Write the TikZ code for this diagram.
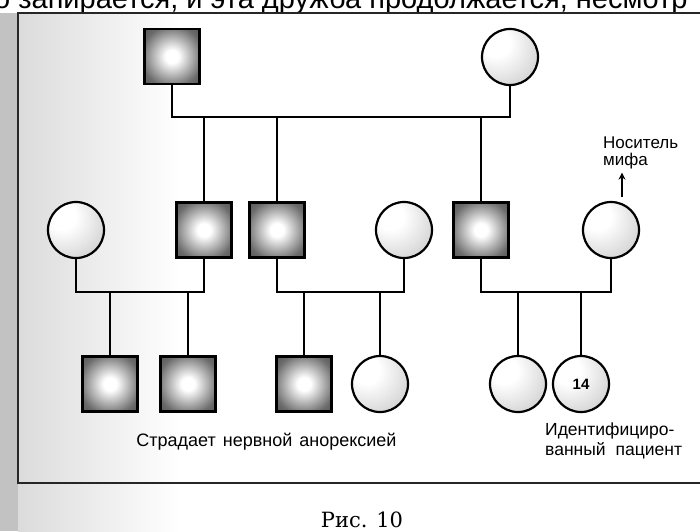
\documentclass[tikz,border=0pt]{standalone}
\usepackage{fontspec}
\setmainfont{Liberation Sans}
\newfontfamily\capfont{DejaVu Serif}
\usetikzlibrary{arrows.meta}
\pgfdeclareradialshading{sqshade}{\pgfpoint{0bp}{0bp}}{color(0bp)=(white); color(6bp)=(white); color(28bp)=(black!58); color(45bp)=(black!75); color(72bp)=(black!80)}
\pgfdeclareradialshading{cshade}{\pgfpoint{-14bp}{14bp}}{color(0bp)=(white); color(12bp)=(white); color(45bp)=(black!22); color(72bp)=(black!36); color(95bp)=(black!36)}
\newcommand{\wideA}{\spaceskip=10pt\relax}
\newcommand{\wideB}{\spaceskip=7pt\relax}
\begin{document}
\begin{tikzpicture}[x=1pt,y=-1pt,
  male/.style={draw, line width=2.2pt, rectangle, minimum size=55pt, inner sep=0pt, shade, shading=sqshade},
  female/.style={draw, line width=2.2pt, circle, minimum size=56pt, inner sep=0pt, shade, shading=cshade},
  conn/.style={line width=2pt},
  frameline/.style={line width=1.8pt, black!85},
  lbl/.style={font=\fontsize{17}{17}\selectfont, inner sep=0pt, align=left}]
\useasboundingbox (0,0) rectangle (700,531);
\fill[white] (0,0) rectangle (700,531);
\shade[left color=black!14, right color=white] (18,13) rectangle (180,531);
\fill[black!24] (0,13) rectangle (18,531);
% top cut text
\node[font=\fontsize{29}{29}\selectfont, anchor=base west, inner sep=0pt] (toptext) at (-6,8) {о запирается, и эта дружба продолжается, несмотр};
% frame
\coordinate (fa) at (705,13);
\coordinate (fb) at (18,13);
\coordinate (fc) at (18,483);
\coordinate (fd) at (705,483);
\draw[frameline] (fa) -- (fb) -- (fc) -- (fd);
% generation 1
\node[male] (g1m) at (172,56.5) {};
\node[female] (g1f) at (510,57) {};
% generation 2
\node[female] (w1) at (76,230) {};
\node[male] (s1) at (204,230) {};
\node[male] (s2) at (277,230) {};
\node[female] (w2) at (404,230) {};
\node[male] (s3) at (481,230) {};
\node[female] (w3) at (611,230) {};
% generation 3
\node[male] (c1) at (110,384) {};
\node[male] (c2) at (188,384) {};
\node[male] (c3) at (304,384) {};
\node[female] (c4) at (380,384) {};
\node[female] (c5) at (518,384) {};
\node[female] (c6) at (581,384) {\bfseries\fontsize{15}{15}\selectfont 14};
% marriage lines
\coordinate (m1) at (340,117);
\coordinate (m2) at (140,292);
\coordinate (m3) at (340,292);
\coordinate (m4) at (545,292);
\draw[conn] (g1m.south) |- (m1) -| (g1f.south);
\draw[conn] (w1.south) |- (m2) -| (s1.south);
\draw[conn] (s2.south) |- (m3) -| (w2.south);
\draw[conn] (s3.south) |- (m4) -| (w3.south);
\foreach \c/\m in {s1/m1,s2/m1,s3/m1,c1/m2,c2/m2,c3/m3,c4/m3,c5/m4,c6/m4}
  \draw[conn] (\c.north) -- (\c.north |- \m);
% labels
\node[lbl, anchor=north west] (myth) at (603,137) {Носитель\\мифа};
\coordinate (atail) at (622,197);
\draw[conn, -{Stealth[length=7pt,width=7pt]}] (atail) -- ([yshift=-3pt]myth.south -| atail);
\node[lbl, anchor=north west, font=\fontsize{17.5}{20}\selectfont\wideA] (ip) at (545,423) {Идентифициро-\\ванный пациент};
\node[lbl, anchor=base, font=\fontsize{18}{18}\selectfont\wideB] (an) at (266.5,446) {Страдает нервной анорексией};
\node[font=\capfont\fontsize{21}{21}\selectfont, anchor=base, inner sep=0pt] (fig) at (362,527) {Рис. 10};
\end{tikzpicture}
\end{document}
